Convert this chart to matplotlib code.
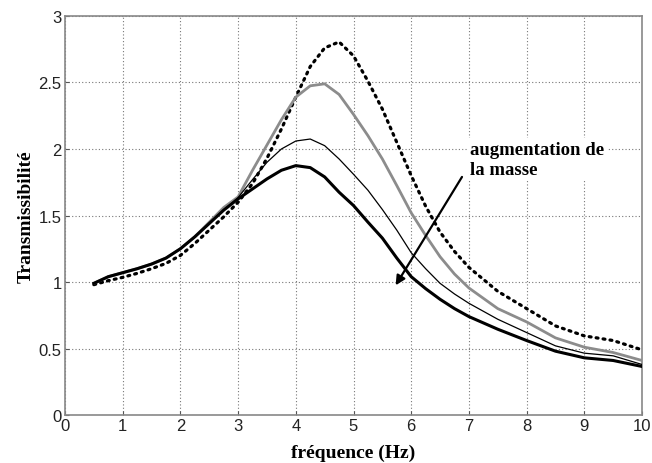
import matplotlib
matplotlib.use("Agg")
import matplotlib.pyplot as plt

# frequency points (Hz)
freq = [0.5, 0.75, 1.0, 1.25, 1.5, 1.75, 2.0, 2.25, 2.5, 2.75, 3.0, 3.25, 3.5,
        3.75, 4.0, 4.25, 4.5, 4.75, 5.0, 5.25, 5.5, 5.75, 6.0, 6.25, 6.5,
        6.75, 7.0, 7.5, 8.0, 8.5, 9.0, 9.5, 10.0]

# transmissibility, lightest mass (dotted) -> heaviest (thick black)
t_dotted = [0.98, 1.01, 1.035, 1.065, 1.10, 1.14, 1.20, 1.29, 1.39, 1.49,
            1.60, 1.74, 1.93, 2.15, 2.39, 2.62, 2.76, 2.805, 2.70, 2.51, 2.30,
            2.05, 1.80, 1.57, 1.375, 1.23, 1.11, 0.93, 0.80, 0.67, 0.595,
            0.56, 0.49]
t_gray = [0.99, 1.04, 1.07, 1.10, 1.135, 1.18, 1.25, 1.34, 1.45, 1.56, 1.64,
          1.84, 2.03, 2.22, 2.39, 2.475, 2.49, 2.41, 2.26, 2.10, 1.925, 1.725,
          1.52, 1.35, 1.19, 1.06, 0.955, 0.80, 0.70, 0.58, 0.51, 0.47, 0.41]
t_thin = [0.99, 1.04, 1.07, 1.10, 1.135, 1.18, 1.25, 1.34, 1.44, 1.54, 1.635,
          1.77, 1.90, 2.00, 2.06, 2.075, 2.025, 1.925, 1.81, 1.69, 1.545, 1.39,
          1.22, 1.10, 0.99, 0.91, 0.84, 0.72, 0.62, 0.52, 0.465, 0.445, 0.38]
t_thick = [0.99, 1.04, 1.07, 1.10, 1.135, 1.18, 1.25, 1.34, 1.44, 1.54, 1.625,
           1.70, 1.775, 1.84, 1.875, 1.86, 1.79, 1.675, 1.575, 1.45, 1.33,
           1.18, 1.04, 0.95, 0.87, 0.80, 0.74, 0.645, 0.56, 0.48, 0.43, 0.41,
           0.365]

fig = plt.figure(figsize=(6.52, 4.64), dpi=100)
ax = fig.add_axes([0.0997, 0.1034, 0.885, 0.86])

ax.plot(freq, t_dotted, color="black", lw=2.3, linestyle=(0, (0.6, 1.6)),
        dash_capstyle="round", zorder=3)
ax.plot(freq, t_gray, color="#8c8c8c", lw=2.0, zorder=3)
ax.plot(freq, t_thin, color="black", lw=0.9, zorder=3)
ax.plot(freq, t_thick, color="black", lw=2.2, zorder=3)

ax.set_xlim(0, 10)
ax.set_ylim(0, 3)
ax.set_xticks(range(0, 11))
ax.set_yticks([0, 0.5, 1, 1.5, 2, 2.5, 3])
ax.set_yticklabels(["0", "0.5", "1", "1.5", "2", "2.5", "3"])
ax.grid(True, color="#777777", linestyle=(0, (1, 2)), lw=0.8)
ax.tick_params(direction="in", length=3, labelsize=12, colors="#555555",
               labelcolor="#222222", pad=2.5)
for lab in ax.get_xticklabels() + ax.get_yticklabels():
    lab.set_family("Liberation Sans")
for s in ax.spines.values():
    s.set_color("#888888")
    s.set_linewidth(1.2)

ax.set_xlabel("fréquence (Hz)", family="Liberation Serif", weight="bold",
              fontsize=14, labelpad=7)
ax.set_ylabel("Transmissibilité", family="Liberation Serif", weight="bold",
              fontsize=14, labelpad=3)

ax.annotate("", xy=(5.73, 0.975), xytext=(6.88, 1.79),
            arrowprops=dict(arrowstyle="-|>", color="black", lw=1.6,
                            mutation_scale=14, shrinkA=0, shrinkB=0), zorder=4)
ax.text(7.02, 2.06, "augmentation de\nla masse", family="Liberation Serif",
        weight="bold", fontsize=13.5, va="top", ha="left", linespacing=1.2,
        bbox=dict(facecolor="white", edgecolor="none", pad=2), zorder=5)

fig.savefig("out.png", dpi=100)
